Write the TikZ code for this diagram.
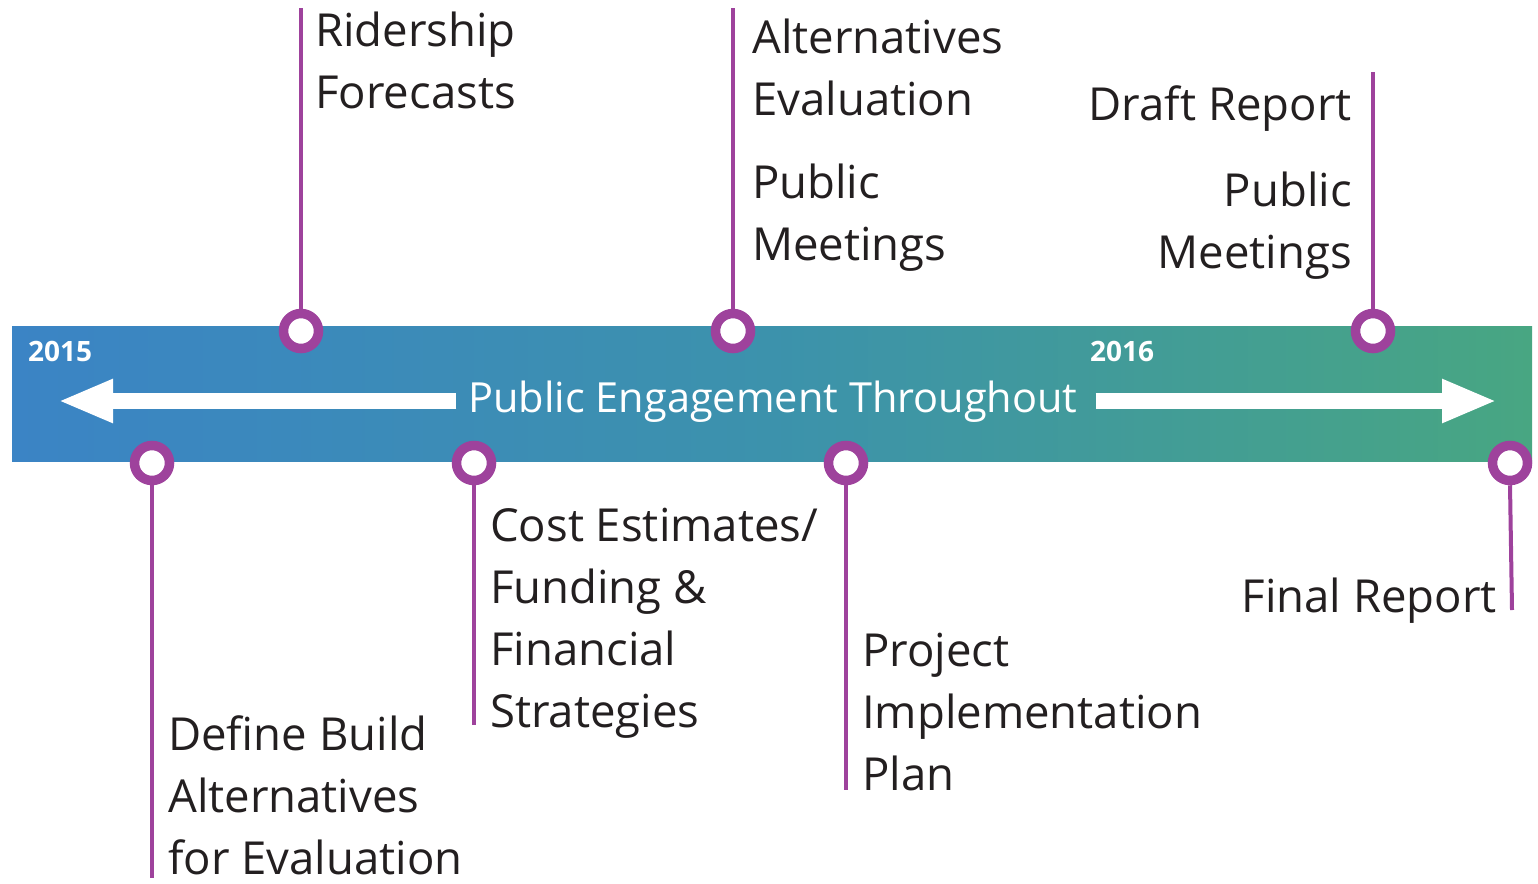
\documentclass[tikz,border=0pt]{standalone}
\usepackage{fontspec}
\setmainfont{Open Sans}
\usetikzlibrary{positioning,arrows.meta,shapes}

\definecolor{ringpurple}{RGB}{158,66,156}
\definecolor{textgray}{RGB}{35,31,32}
\definecolor{bandblue}{RGB}{59,132,197}
\definecolor{bandteal}{RGB}{60,146,172}
\definecolor{bandgreen}{RGB}{72,166,130}

\begin{document}
\begin{tikzpicture} [x=1pt,y=-1pt,
    dot/.style={draw=ringpurple,line width=9.5pt,fill=white,circle,minimum size=35pt,inner sep=0pt},
    stem/.style={draw=ringpurple,line width=4pt},
    lbl/.style={text=textgray,font=\fontsize{45.5}{62}\selectfont,inner sep=0pt},
    year/.style={text=white,font=\fontsize{28}{30}\selectfont\bfseries,inner sep=0pt},
    bigarrow/.style={draw=white,line width=16pt,-{Triangle[length=55pt,width=40pt]}}]
    \useasboundingbox (0,0) rectangle (1538,883);

    % the band
    \shade[left color=bandblue,right color=bandgreen,middle color=bandteal] (12,326) rectangle (1532,461);
    \node[year,anchor=west] (y2015) at (28,351) {2015};
    \node[year,anchor=west] (y2016) at (1090,351) {2016};
    \node[text=white,font=\fontsize{41.5}{50}\selectfont,inner sep=0pt] (engage) at (773,402) {Public Engagement Throughout};
    \coordinate (lefttip) at (58,401);
    \coordinate (righttip) at (1497,401);
    \path (engage.west) ++(-12,-1) edge [bigarrow] (lefttip);
    \path (engage.east) ++(18,-1) edge [bigarrow] (righttip);

    % dots above the band
    \node[dot] (rider) at (301,331) {};
    \node[dot] (altern) at (733,331) {};
    \node[dot] (draft) at (1373,331) {};
    % dots below the band
    \node[dot] (define) at (152,463) {};
    \node[dot] (cost) at (474,463) {};
    \node[dot] (project) at (846,463) {};
    \node[dot] (final) at (1510,463) {};

    \coordinate (ridertop) at (301,8);
    \coordinate (alterntop) at (733,8);
    \coordinate (drafttop) at (1373,72);
    \coordinate (defineend) at (152,878);
    \coordinate (costend) at (474,725);
    \coordinate (projectend) at (846,790);
    \coordinate (finalend) at (1512,610);

    \path (rider.north) edge [stem] (ridertop);
    \path (altern.north) edge [stem] (alterntop);
    \path (draft.north) edge [stem] (drafttop);
    \path (define.south) edge [stem] (defineend);
    \path (cost.south) edge [stem] (costend);
    \path (project.south) edge [stem] (projectend);
    \path (final.south) edge [stem] (finalend);

    % labels (base = last line)
    \node[lbl,anchor=base west,align=left] (riderlbl) at (315,108) {Ridership\\Forecasts};
    \node[lbl,anchor=base west,align=left] (alternlbl) at (752,115) {Alternatives\\Evaluation};
    \node[lbl,anchor=base west,align=left] (meetlbl) at (752,260) {Public\\Meetings};
    \node[lbl,anchor=base east,align=right] (draftlbl) at (1352,120) {Draft Report};
    \node[lbl,anchor=base east,align=right] (meet2lbl) at (1352,268) {Public\\Meetings};
    \node[lbl,anchor=base west,align=left] (costlbl) at (490,727) {Cost Estimates/\\Funding \&\\Financial\\Strategies};
    \node[lbl,anchor=base west,align=left] (definelbl) at (168,874) {Define Build\\Alternatives\\for Evaluation};
    \node[lbl,anchor=base west,align=left] (projectlbl) at (862,790) {Project\\Implementation\\Plan};
    \node[lbl,anchor=base east] (finallbl) at (1497,612) {Final Report};
\end{tikzpicture}
\end{document}
